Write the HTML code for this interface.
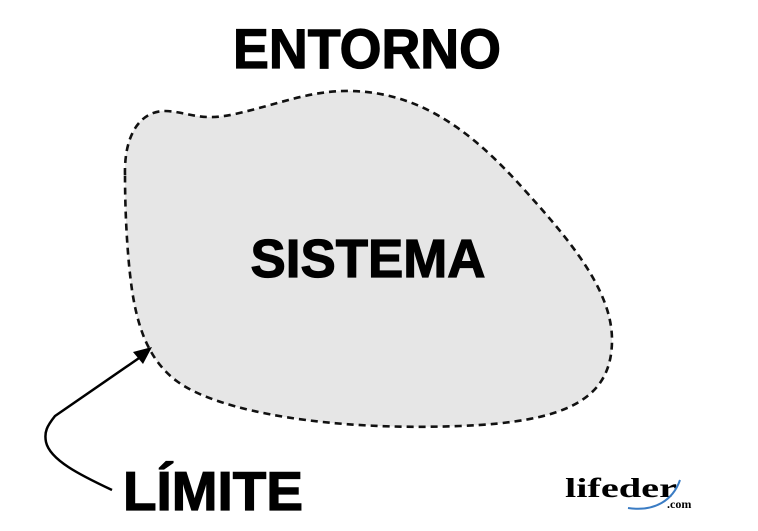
<!DOCTYPE html>
<html><head><meta charset="utf-8"><style>
html,body{margin:0;padding:0;background:#fff;width:758px;height:531px;overflow:hidden}
svg{display:block}
</style></head><body>
<svg width="758" height="531" viewBox="0 0 758 531" xmlns="http://www.w3.org/2000/svg">
<path d="M125,175 C124,135 140,111 165,111 C190,112 200,122 235,114 C280,104 310,90 352,91 C420,93 470,130 520,185 C570,240 612,290 612,340 C612,400 565,422 460,426 C330,431 220,412 178,382 C150,362 138,330 132,290 C127,255 125,210 125,175 Z" fill="#e6e6e6" stroke="#111" stroke-width="2.6" stroke-dasharray="7,5"/>
<path d="M112,490 C80,475 50,460 46,442 C44,432 47,426 55,416 L142,356" fill="none" stroke="#000" stroke-width="2.5"/>
<polygon points="152,347 133,352 143,364" fill="#000"/>
<g font-family="Liberation Sans, sans-serif" font-weight="bold" stroke="#000" stroke-width="1.2">
<text x="367" y="68" text-anchor="middle" font-size="56" textLength="268" lengthAdjust="spacingAndGlyphs">ENTORNO</text>
<text x="368" y="277" text-anchor="middle" font-size="54" textLength="235" lengthAdjust="spacingAndGlyphs">SISTEMA</text>
<text x="123" y="510" font-size="55" textLength="180" lengthAdjust="spacingAndGlyphs">LÍMITE</text>
</g>
<text x="565" y="497" font-family="Liberation Serif, serif" font-weight="bold" font-size="27" textLength="112" lengthAdjust="spacingAndGlyphs">lifeder</text>
<path d="M628,508 C655,512 673,500 680,480" fill="none" stroke="#3a7cc4" stroke-width="2"/>
<text x="667" y="508" font-family="Liberation Serif, serif" font-weight="bold" font-size="12">.com</text>
</svg>
</body></html>
